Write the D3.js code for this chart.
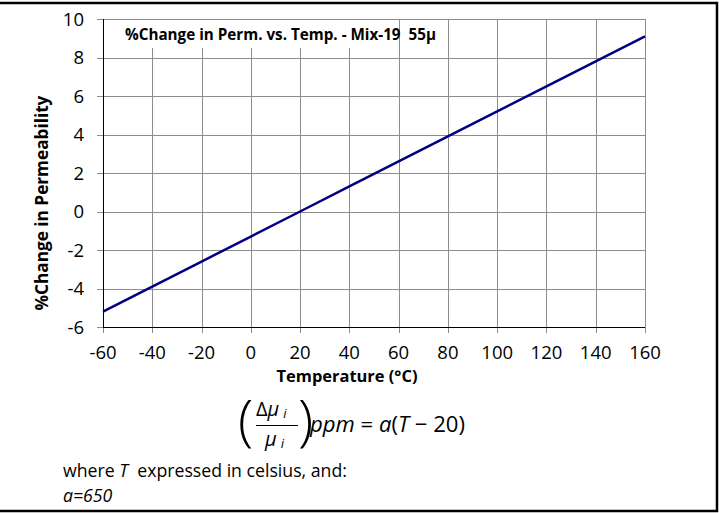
<!DOCTYPE html>
<html>
<head>
<meta charset="utf-8">
<script src="https://cdn.jsdelivr.net/npm/d3@7"></script>
<style>
  body { margin: 0; background: #fff; }
  text { font-family: "Open Sans", sans-serif; white-space: pre; }
</style>
</head>
<body>
<svg id="chart"></svg>
<script>
// data
const temps = [-60, -40, -20, 0, 20, 40, 60, 80, 100, 120, 140, 160];
const pctChange = [-5.2, -3.9, -2.6, -1.3, 0, 1.3, 2.6, 3.9, 5.2, 6.5, 7.8, 9.1];
const xTicks = [-60, -40, -20, 0, 20, 40, 60, 80, 100, 120, 140, 160];
const yTicks = [-6, -4, -2, 0, 2, 4, 6, 8, 10];

const width = 719;
const height = 513;

const svg = d3.select("#chart")
    .attr("width", width)
    .attr("height", height);

const xScale = d3.scaleLinear()
    .domain([-60, 160])
    .range([103, 645]);

const yScale = d3.scaleLinear()
    .domain([-6, 10])
    .range([327, 19]);

// shrink/grow a text's font so it spans the wanted width
function fitWidth(sel, w) {
    const size = +sel.attr("font-size");
    const len = sel.node().getComputedTextLength();
    if (size && len) sel.attr("font-size", (size * w / len).toFixed(2));
}

// grid
const grid = svg.append("g");
grid.selectAll(".vgrid")
    .data(xTicks)
    .enter().append("line")
    .attr("x1", d => Math.round(xScale(d)) + 0.5)
    .attr("x2", d => Math.round(xScale(d)) + 0.5)
    .attr("y1", yScale(10))
    .attr("y2", yScale(-6) + 6)
    .attr("stroke", "#8c8c8c")
    .attr("stroke-width", 1);

grid.selectAll(".hgrid")
    .data(yTicks)
    .enter().append("line")
    .attr("x1", xScale(-60) - 6)
    .attr("x2", xScale(160))
    .attr("y1", d => Math.round(yScale(d)) + 0.5)
    .attr("y2", d => Math.round(yScale(d)) + 0.5)
    .attr("stroke", "#8c8c8c")
    .attr("stroke-width", 1);

// title box covering the grid
svg.append("rect")
    .attr("x", xScale(-60) + 1)
    .attr("y", yScale(10) + 1)
    .attr("width", 295)
    .attr("height", 28)
    .attr("fill", "#fff");

const title = svg.append("text")
    .attr("x", 125)
    .attr("y", 40)
    .attr("font-size", 13)
    .attr("font-weight", "bold")
    .text("%Change in Perm. vs. Temp. - Mix-19  55\u00b5");
fitWidth(title, 311);

// axis lines
svg.append("line")
    .attr("x1", Math.round(xScale(-60)) + 0.5).attr("x2", Math.round(xScale(-60)) + 0.5)
    .attr("y1", yScale(10)).attr("y2", yScale(-6))
    .attr("stroke", "#000");
svg.append("line")
    .attr("x1", xScale(-60)).attr("x2", xScale(160))
    .attr("y1", Math.round(yScale(-6)) + 0.5).attr("y2", Math.round(yScale(-6)) + 0.5)
    .attr("stroke", "#000");

// tick labels
svg.selectAll(".xlab")
    .data(xTicks)
    .enter().append("text")
    .attr("x", d => xScale(d))
    .attr("y", 359)
    .attr("text-anchor", "middle")
    .attr("font-size", 18.5)
    .text(d => d);

svg.selectAll(".ylab")
    .data(yTicks)
    .enter().append("text")
    .attr("x", 84)
    .attr("y", d => yScale(d) + 6.5)
    .attr("text-anchor", "end")
    .attr("font-size", 18.5)
    .text(d => d);

// axis titles
const xTitle = svg.append("text")
    .attr("x", 347)
    .attr("y", 382)
    .attr("text-anchor", "middle")
    .attr("font-size", 15)
    .attr("font-weight", "bold")
    .text("Temperature (\u00b0C)");
fitWidth(xTitle, 141);

const yTitle = svg.append("text")
    .attr("transform", "translate(48,203) rotate(-90)")
    .attr("text-anchor", "middle")
    .attr("font-size", 15)
    .attr("font-weight", "bold")
    .text("%Change in Permeability");
fitWidth(yTitle, 215);

// the line
const line = d3.line()
    .x((d, i) => xScale(temps[i]))
    .y(d => yScale(d));

svg.append("path")
    .attr("d", line(pctChange))
    .attr("fill", "none")
    .attr("stroke", "#000080")
    .attr("stroke-width", 2.5);

// formula
const f = svg.append("g").attr("font-size", 20);
f.append("text").attr("x", 238).attr("y", 440).attr("font-size", 56)
    .attr("font-weight", 300).text("(");
f.append("text").attr("x", 298).attr("y", 440).attr("font-size", 56)
    .attr("font-weight", 300).text(")");
f.append("text").attr("x", 256).attr("y", 416).text("\u0394")
    .append("tspan").attr("font-style", "italic").text("\u03bc")
    .append("tspan").attr("font-size", 13).attr("dx", 4).attr("dy", 2).text("i");
f.append("line").attr("x1", 256).attr("x2", 298).attr("y1", 425.5).attr("y2", 425.5)
    .attr("stroke", "#000");
f.append("text").attr("x", 265).attr("y", 446).attr("font-style", "italic").text("\u03bc")
    .append("tspan").attr("font-size", 13).attr("dx", 4).attr("dy", 2).text("i");
const rhs = f.append("text").attr("x", 310).attr("y", 432)
    .attr("font-size", 20)
    .html('<tspan font-style="italic">ppm</tspan> = <tspan font-style="italic">a</tspan>(<tspan font-style="italic">T</tspan> \u2212 20)');
fitWidth(rhs, 155);

const where = svg.append("text")
    .attr("x", 63)
    .attr("y", 477)
    .attr("font-size", 16)
    .html('where <tspan font-style="italic">T</tspan>  expressed in celsius, and:');
fitWidth(where, 284);

svg.append("text")
    .attr("x", 63)
    .attr("y", 502)
    .attr("font-size", where.attr("font-size"))
    .attr("font-style", "italic")
    .text("a=650");

// outer frame (top, right, bottom)
svg.append("path")
    .attr("d", "M0,3 H717 V511 H0")
    .attr("fill", "none")
    .attr("stroke", "#000")
    .attr("stroke-width", 2.5);
</script>
</body>
</html>
